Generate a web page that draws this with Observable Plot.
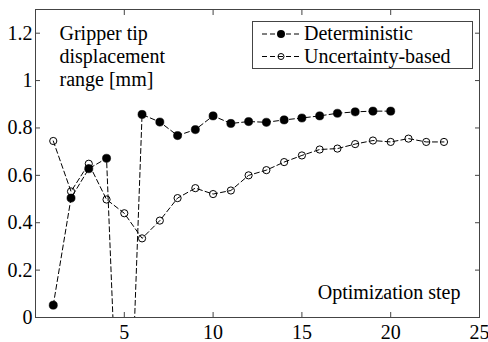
<!DOCTYPE html>
<html><head><meta charset="utf-8">
<script src="https://cdn.jsdelivr.net/npm/d3@7"></script>
<script src="https://cdn.jsdelivr.net/npm/@observablehq/plot@0.6"></script>
<style>body{margin:0;background:#fff;font-family:'Liberation Serif';font-size:20px}</style>
</head><body><div id="chart"></div>
<script>
// ---- data ----
const stepsDet = [1,2,3,4,5,6,7,8,9,10,11,12,13,14,15,16,17,18,19,20];
const deterministic = [0.052,0.504,0.628,0.672,-1.2,0.857,0.825,0.768,0.793,0.851,0.819,0.827,0.824,0.834,0.842,0.851,0.862,0.868,0.871,0.871];
const stepsUnc = [1,2,3,4,5,6,7,8,9,10,11,12,13,14,15,16,17,18,19,20,21,22,23];
const uncertainty = [0.745,0.532,0.649,0.498,0.440,0.334,0.409,0.504,0.546,0.521,0.536,0.600,0.622,0.656,0.684,0.709,0.713,0.732,0.747,0.741,0.755,0.741,0.741];
const xTicks = [5,10,15,20,25];
const yTicks = [0,0.2,0.4,0.6,0.8,1,1.2];
const seriesNames = ["Deterministic","Uncertainty-based"];
const yLabel = "Gripper tip\ndisplacement\nrange [mm]";
const xLabel = "Optimization step";

const detData = stepsDet.map((s,i)=>({x:s,y:deterministic[i]}));
const uncData = stepsUnc.map((s,i)=>({x:s,y:uncertainty[i]}));

const frameColor = "#444";
const dash = "5,3";
const font = "Liberation Serif";

function build() {
  const chart = Plot.plot({
    width: 488, height: 342,
    marginLeft: 35, marginRight: 9, marginTop: 9, marginBottom: 25,
    style: {fontFamily: font, fontSize: "20px"},
    x: {domain: [0,25]},
    y: {domain: [0,1.3]},
    marks: [
      Plot.axisX({anchor:"bottom", ticks:xTicks, tickSize:0, tickPadding:7, label:null, fontSize:20, tickFormat:d=>String(d)}),
      Plot.axisX({anchor:"bottom", ticks:xTicks, tickSize:-5, tickFormat:()=>"", label:null, stroke:frameColor}),
      Plot.axisX({anchor:"top", ticks:xTicks, tickSize:-5, tickFormat:()=>"", label:null, stroke:frameColor}),
      Plot.axisY({anchor:"left", ticks:yTicks, tickSize:0, tickPadding:3, label:null, fontSize:20, tickFormat:d=>String(d)}),
      Plot.axisY({anchor:"left", ticks:yTicks, tickSize:-5, tickFormat:()=>"", label:null, stroke:frameColor}),
      Plot.axisY({anchor:"right", ticks:yTicks, tickSize:-5, tickFormat:()=>"", label:null, stroke:frameColor}),
      Plot.frame({stroke: frameColor}),
      Plot.line(detData, {x:"x", y:"y", stroke:"#000", strokeWidth:1, strokeDasharray:dash, clip:true}),
      Plot.dot(detData, {x:"x", y:"y", r:4.1, fill:"#000", stroke:"#000", strokeWidth:0.5, clip:true}),
      Plot.line(uncData, {x:"x", y:"y", stroke:"#000", strokeWidth:1, strokeDasharray:dash, clip:true}),
      Plot.dot(uncData, {x:"x", y:"y", r:3.6, fill:"none", stroke:"#000", strokeWidth:1, clip:true}),
      Plot.text([yLabel], {frameAnchor:"top-left", textAnchor:"start", lineAnchor:"top", dx:24, dy:14.3, lineHeight:1.15, fontSize:20, fill:"#000"}),
      Plot.text([xLabel], {frameAnchor:"bottom-right", textAnchor:"end", lineAnchor:"middle", dx:-19, dy:-25.4, fontSize:20, fill:"#000"})
    ]
  });
  const svg = d3.select(chart);
  const lg = svg.append("g").attr("font-size", 20).attr("text-anchor","start");
  lg.append("rect").attr("x",252.5).attr("y",21.5).attr("width",220).attr("height",47)
    .attr("fill","#fff").attr("stroke",frameColor).attr("stroke-width",1);
  seriesNames.forEach((name,i)=>{
    const cy = 34 + i*22.5;
    lg.append("line").attr("x1",262).attr("x2",300).attr("y1",cy).attr("y2",cy)
      .attr("stroke","#000").attr("stroke-width",1).attr("stroke-dasharray",dash);
    if (i===0) lg.append("circle").attr("cx",281).attr("cy",cy).attr("r",4).attr("fill","#000");
    else lg.append("circle").attr("cx",281).attr("cy",cy).attr("r",3).attr("fill","none").attr("stroke","#000");
    lg.append("text").attr("class","lgtext").attr("x",304).attr("y",cy+6.2).attr("fill","#000").text(name);
  });
  const holder = document.getElementById("chart");
  holder.innerHTML = "";
  holder.appendChild(chart);
  return chart;
}
build();
requestAnimationFrame(() => build());
setTimeout(() => build(), 150);
</script>
</body></html>
